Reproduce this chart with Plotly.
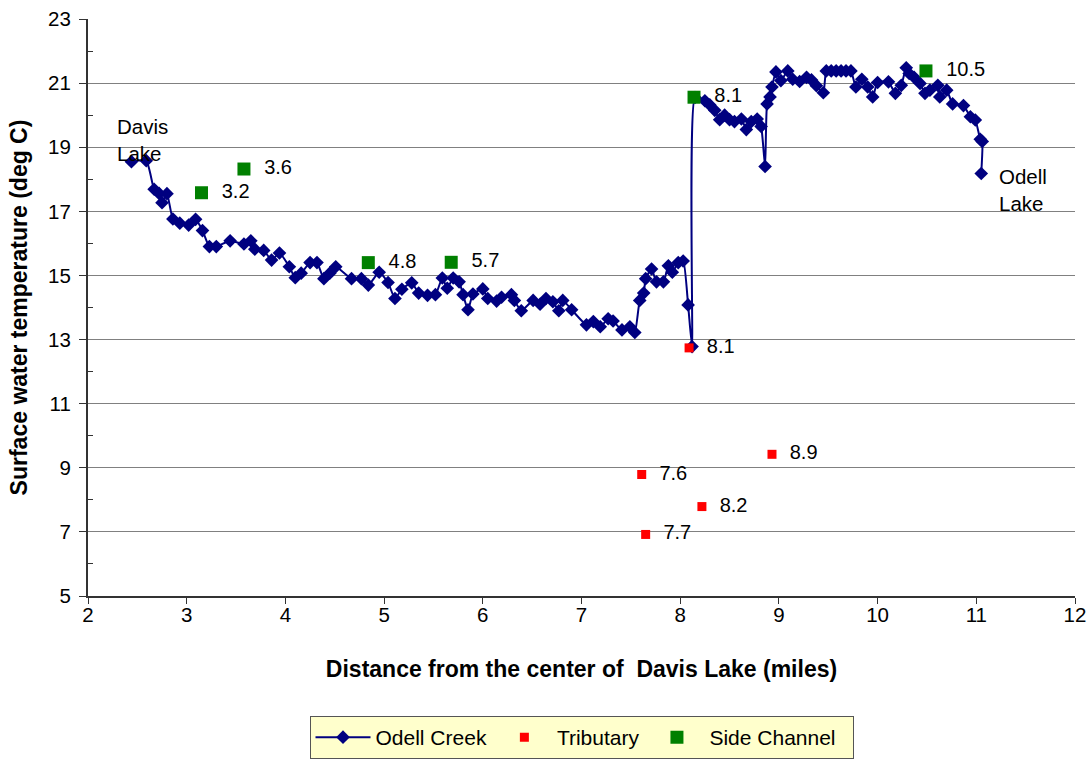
import plotly.graph_objects as go

# Odell Creek longitudinal profile (miles from center of Davis Lake, deg C)
creek_x = [2.44, 2.59, 2.67, 2.72, 2.75, 2.80, 2.86, 2.93, 3.02, 3.09, 3.16, 3.23, 3.30,
           3.44, 3.58, 3.65, 3.69, 3.78, 3.86, 3.94, 4.04, 4.10, 4.16, 4.25, 4.32, 4.39,
           4.45, 4.51, 4.67, 4.77, 4.84, 4.95, 5.04, 5.11, 5.18, 5.28, 5.35, 5.44, 5.52,
           5.59, 5.64, 5.70, 5.76, 5.80, 5.85, 5.90, 6.00, 6.05, 6.14, 6.19, 6.29, 6.32,
           6.39, 6.51, 6.58, 6.64, 6.71, 6.77, 6.81, 6.90, 7.05, 7.12, 7.19, 7.27, 7.32,
           7.41, 7.49, 7.54, 7.59, 7.63, 7.65, 7.71, 7.76, 7.83, 7.88, 7.92, 7.98, 8.03,
           8.08, 8.12, 8.15, 8.25, 8.30, 8.35, 8.40, 8.45, 8.50, 8.55, 8.62, 8.67, 8.72,
           8.78, 8.82, 8.86, 8.88, 8.91, 8.93, 8.97, 9.02, 9.09, 9.14, 9.21, 9.28, 9.33,
           9.38, 9.45, 9.48, 9.53, 9.58, 9.63, 9.68, 9.73, 9.78, 9.84, 9.90, 9.95, 10.00,
           10.11, 10.18, 10.24, 10.29, 10.32, 10.37, 10.43, 10.48, 10.53, 10.61, 10.63,
           10.70, 10.76, 10.87, 10.94, 10.99, 11.04, 11.06, 11.05]
creek_y = [18.55, 18.58, 17.69, 17.56, 17.27, 17.55, 16.76, 16.63, 16.57, 16.75, 16.40, 15.90, 15.90,
           16.08, 15.98, 16.08, 15.82, 15.78, 15.48, 15.70, 15.27, 14.93, 15.07, 15.40, 15.40, 14.90,
           15.07, 15.27, 14.90, 14.90, 14.70, 15.10, 14.78, 14.28, 14.57, 14.77, 14.45, 14.38, 14.40,
           14.92, 14.60, 14.92, 14.80, 14.40, 13.93, 14.42, 14.58, 14.28, 14.20, 14.32, 14.40, 14.22,
           13.90, 14.22, 14.10, 14.28, 14.18, 13.90, 14.22, 13.93, 13.46, 13.56, 13.40, 13.65, 13.58,
           13.30, 13.40, 13.22, 14.22, 14.45, 14.90, 15.20, 14.80, 14.80, 15.30, 15.10, 15.40, 15.45,
           14.08, 12.78, 20.55, 20.45, 20.32, 20.15, 19.86, 20.00, 19.86, 19.80, 19.88, 19.55, 19.80,
           19.88, 19.65, 18.40, 20.35, 20.57, 20.88, 21.35, 21.08, 21.38, 21.12, 21.05, 21.18, 21.10,
           20.92, 20.70, 21.38, 21.38, 21.38, 21.38, 21.38, 21.38, 20.88, 21.12, 20.88, 20.57, 21.02,
           21.04, 20.68, 20.93, 21.48, 21.30, 21.18, 20.99, 20.68, 20.78, 20.93, 20.57,
           20.78, 20.35, 20.30, 19.95, 19.85, 19.25, 19.18, 18.18]

trib_x = [8.09, 7.61, 8.93, 8.22, 7.65]
trib_y = [12.74, 8.79, 9.42, 7.79, 6.92]
trib_labels = ["8.1", "7.6", "8.9", "8.2", "7.7"]

side_x = [3.15, 3.58, 4.84, 5.68, 8.14, 10.49]
side_y = [17.58, 18.32, 15.40, 15.41, 20.56, 21.38]
side_labels = ["3.2", "3.6", "4.8", "5.7", "8.1", "10.5"]

y_ticks = [5, 7, 9, 11, 13, 15, 17, 19, 21, 23]
x_ticks = [2, 3, 4, 5, 6, 7, 8, 9, 10, 11, 12]

FONT = "Liberation Sans, Arial, sans-serif"
NB = "\u00a0"

fig = go.Figure()
fig.add_trace(go.Scatter(
    x=creek_x, y=creek_y, mode="lines+markers", name="Odell Creek",
    line=dict(color="#000080", width=2, shape="spline", smoothing=0.5),
    marker=dict(symbol="diamond", size=10.5, color="#000080"),
))
fig.add_trace(go.Scatter(
    x=trib_x, y=trib_y, mode="markers+text", name="Tributary",
    text=[NB * 2 + t for t in trib_labels], textposition="middle right",
    textfont=dict(family=FONT, size=20, color="black"),
    marker=dict(symbol="square", size=9, color="#FF0000"),
))
fig.add_trace(go.Scatter(
    x=side_x, y=side_y, mode="markers+text", name="Side Channel" + NB * 2,
    text=[NB * 2 + t for t in side_labels], textposition="middle right",
    textfont=dict(family=FONT, size=20, color="black"),
    marker=dict(symbol="square", size=13, color="#008000"),
))

fig.add_annotation(x=2.27, y=19.22, xref="x", yref="y", text="Davis<br>Lake",
                   showarrow=False, xanchor="left", yanchor="middle", align="left",
                   font=dict(family=FONT, size=20.5, color="black"))
fig.add_annotation(x=11.21, y=17.68, xref="x", yref="y", text="Odell<br>Lake",
                   showarrow=False, xanchor="left", yanchor="middle", align="left",
                   font=dict(family=FONT, size=20.5, color="black"))

fig.update_layout(
    width=1091, height=759,
    margin=dict(l=88, r=16, t=19, b=163, autoexpand=False),
    paper_bgcolor="white", plot_bgcolor="white",
    font=dict(family=FONT, size=20, color="black"),
    showlegend=True,
    legend=dict(orientation="h", x=0.5, xanchor="center", y=-0.208, yanchor="top",
                bgcolor="#FFFFCC", bordercolor="#555555", borderwidth=1, itemwidth=55,
                font=dict(family=FONT, size=21, color="black")),
    xaxis=dict(range=[2, 12], tickvals=x_ticks, showgrid=False, zeroline=False,
               showline=True, linecolor="#333333", linewidth=2,
               ticks="outside", ticklen=6, tickcolor="#333333", tickwidth=1,
               tickfont=dict(family=FONT, size=20.5), ticklabelstandoff=-7,
               title=dict(text="Distance from the center of " + NB + "Davis Lake (miles)",
                          font=dict(family=FONT, size=23, weight="bold"), standoff=36)),
    yaxis=dict(range=[5, 23], tickvals=y_ticks, showgrid=True, gridcolor="#808080",
               gridwidth=1, zeroline=False,
               showline=True, linecolor="#333333", linewidth=2,
               ticks="outside", ticklen=7, tickcolor="#333333", tickwidth=1,
               tickfont=dict(family=FONT, size=20.5), ticklabelstandoff=4,
               minor=dict(tickvals=[6, 8, 10, 12, 14, 16, 18, 20, 22], ticks="inside",
                          ticklen=5, tickcolor="#333333", showgrid=False),
               title=dict(text="Surface water temperature (deg C)",
                          font=dict(family=FONT, size=23, weight="bold"), standoff=14)),
)

fig.write_html("out.html")
